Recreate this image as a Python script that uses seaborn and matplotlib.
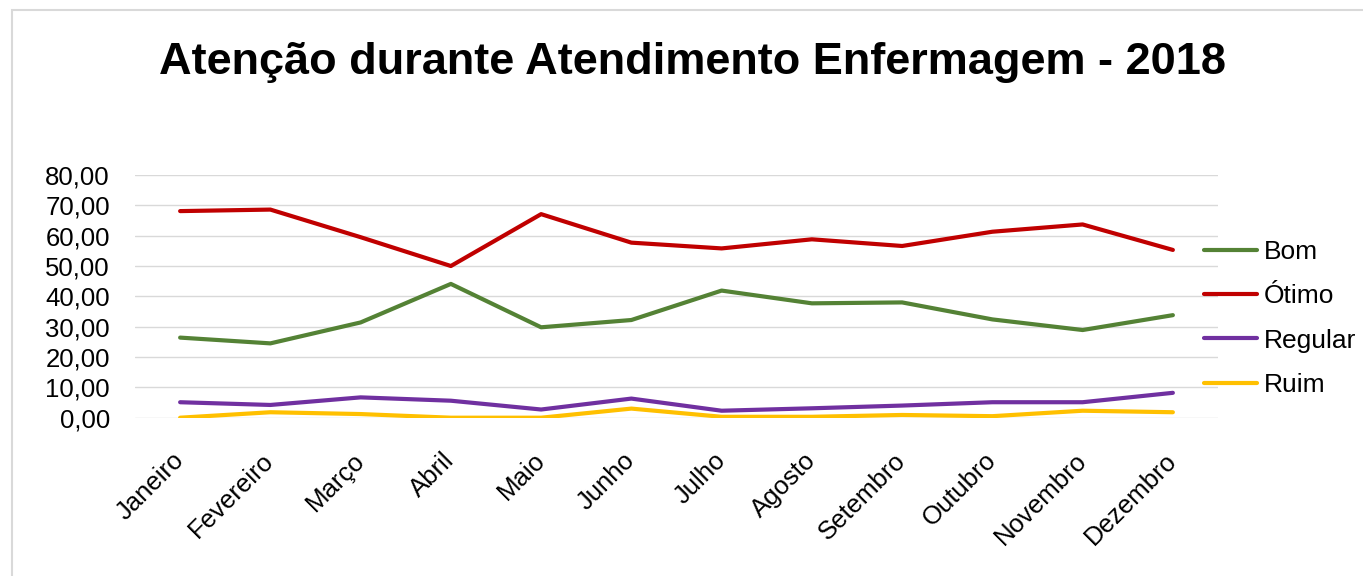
import numpy as np
import pandas as pd
import seaborn as sns
import matplotlib
matplotlib.use("Agg")
import matplotlib.pyplot as plt
from matplotlib.ticker import FuncFormatter
from matplotlib.patches import Rectangle

meses = ['Janeiro', 'Fevereiro', 'Março', 'Abril', 'Maio', 'Junho',
         'Julho', 'Agosto', 'Setembro', 'Outubro', 'Novembro', 'Dezembro']
bom = [26.4, 24.5, 31.4, 44.1, 29.8, 32.2, 41.9, 37.7, 38.0, 32.4, 28.9, 33.8]
otimo = [68.1, 68.6, 59.5, 50.0, 67.1, 57.7, 55.8, 58.8, 56.6, 61.3, 63.7, 55.3]
regular = [5.1, 4.2, 6.7, 5.6, 2.7, 6.3, 2.3, 3.1, 4.0, 5.1, 5.1, 8.2]
ruim = [0.0, 1.8, 1.2, 0.0, 0.0, 3.0, 0.3, 0.3, 0.9, 0.5, 2.3, 1.8]

series = ['Bom', 'Ótimo', 'Regular', 'Ruim']
cores = ['#548235', '#C00000', '#7030A0', '#FFC000']

df = pd.DataFrame({'Mês': meses, 'Bom': bom, 'Ótimo': otimo,
                   'Regular': regular, 'Ruim': ruim})
df['x'] = np.arange(len(meses))
longo = df.melt(id_vars=['Mês', 'x'], value_vars=series,
                var_name='Avaliação', value_name='valor')

sns.set_theme(style='white')
plt.rcParams['font.family'] = ['Liberation Sans', 'DejaVu Sans']
plt.rcParams['text.color'] = 'black'

fig = plt.figure(figsize=(13.63, 5.76), dpi=100)
ax = fig.add_axes([135 / 1363, 1 - 417.7 / 576, (1218 - 135) / 1363, (417.7 - 175) / 576])

# moldura cinza do gráfico
fig.patches.append(Rectangle((12 / 1363, -0.1), 1.2, 1 - 10 / 576 + 0.1,
                             transform=fig.transFigure, fill=False,
                             edgecolor='#D9D9D9', linewidth=1.5))

sns.lineplot(data=longo, x='x', y='valor', hue='Avaliação', hue_order=series,
             palette=cores, linewidth=3, ax=ax, legend=True)

ax.set_xlim(-0.5, len(meses) - 0.5)
ax.set_ylim(0, 80)
ax.set_yticks(np.arange(0, 81, 10))
ax.yaxis.set_major_formatter(FuncFormatter(lambda v, p: f'{v:.2f}'.replace('.', ',')))
ax.set_xticks(df['x'])
ax.set_xticklabels(meses, rotation=45, ha='right', va='center', rotation_mode='anchor')
ax.tick_params(axis='both', labelsize=18.5, colors='black', length=0)
ax.tick_params(axis='x', pad=28)
ax.tick_params(axis='y', pad=18)
ax.grid(axis='y', color='#D9D9D9', linewidth=1)
ax.set_axisbelow(True)
for s in ax.spines.values():
    s.set_visible(False)
ax.set_xlabel('')
ax.set_ylabel('')

leg = ax.legend(loc='upper left', bbox_to_anchor=(1204 / 1363, 1 - 240 / 576),
                bbox_transform=fig.transFigure, frameon=False, fontsize=19,
                handlelength=2.0, handletextpad=0.25, labelspacing=0.77,
                borderaxespad=0, borderpad=0)
for t in leg.get_texts():
    t.set_color('black')

fig.text(0.508, 1 - 74 / 576, 'Atenção durante Atendimento Enfermagem - 2018',
         ha='center', va='baseline', fontsize=32.5, fontweight='bold', color='black')

fig.savefig('out.png', dpi=100)
